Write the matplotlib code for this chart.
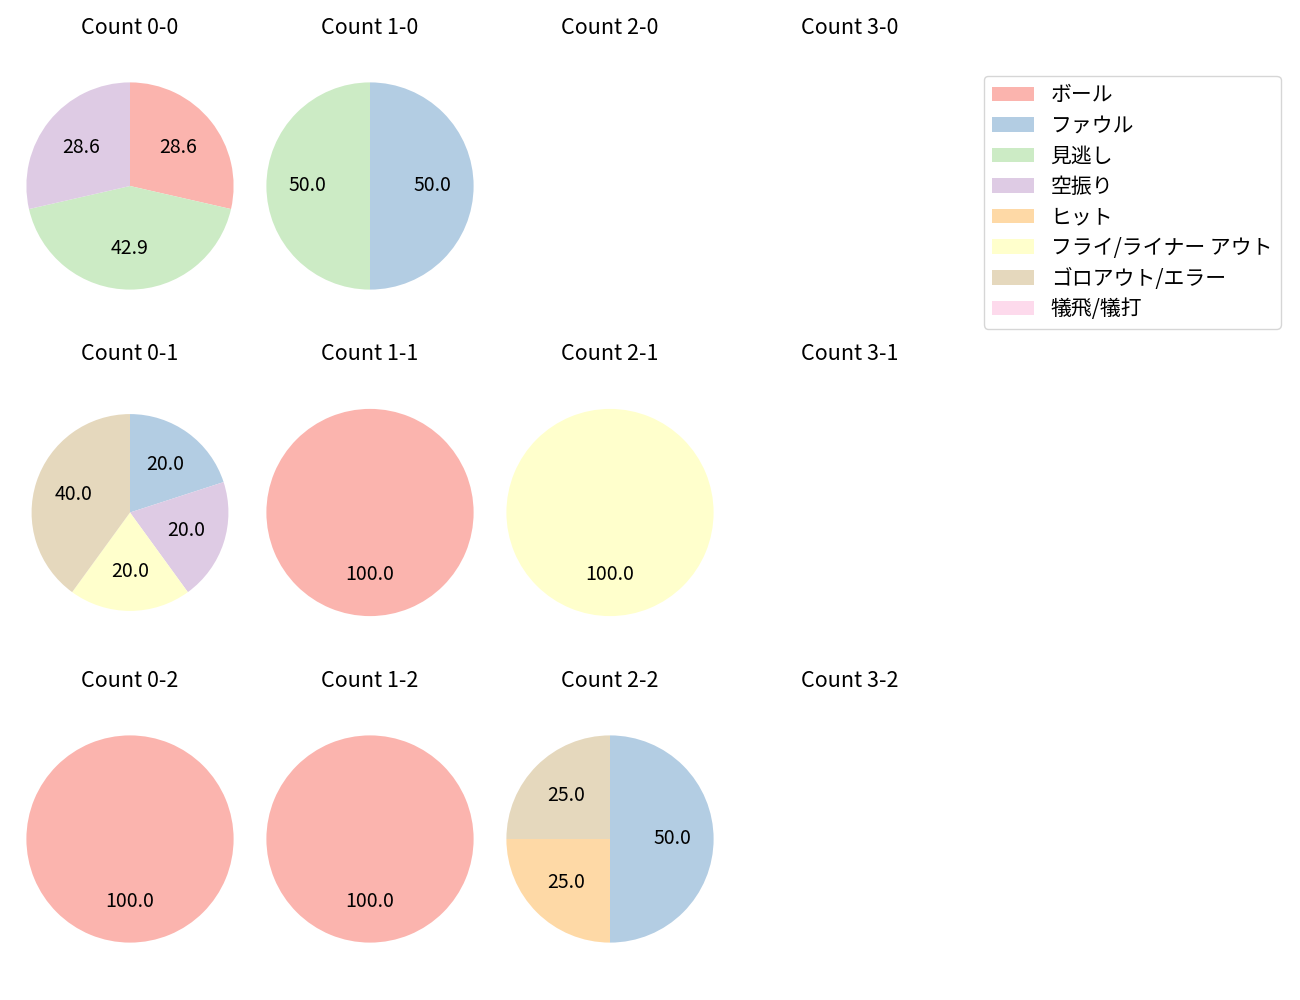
import matplotlib
matplotlib.use('Agg')
import matplotlib.pyplot as plt
from matplotlib.patches import Patch

plt.rcParams['font.family'] = ['Noto Sans CJK JP', 'DejaVu Sans']

# result categories, in legend order
labels = ['ボール', 'ファウル', '見逃し', '空振り', 'ヒット',
          'フライ/ライナー アウト', 'ゴロアウト/エラー', '犠飛/犠打']
colors = ['#fbb4ae', '#b3cde3', '#ccebc5', '#decbe4',
          '#fed9a6', '#ffffcc', '#e5d8bd', '#fddaec']

balls = [0, 1, 2, 3]
strikes = [0, 1, 2]

# counts per category for each ball-strike count (empty list = no data)
counts = {
    '0-0': [2, 0, 3, 2, 0, 0, 0, 0],
    '1-0': [0, 1, 1, 0, 0, 0, 0, 0],
    '2-0': [],
    '3-0': [],
    '0-1': [0, 1, 0, 1, 0, 1, 2, 0],
    '1-1': [1, 0, 0, 0, 0, 0, 0, 0],
    '2-1': [0, 0, 0, 0, 0, 1, 0, 0],
    '3-1': [],
    '0-2': [1, 0, 0, 0, 0, 0, 0, 0],
    '1-2': [1, 0, 0, 0, 0, 0, 0, 0],
    '2-2': [0, 2, 0, 0, 1, 0, 1, 0],
    '3-2': [],
}

fig = plt.figure(figsize=(13, 10), dpi=100)

side = 259 / 1300.0   # axes width (fig fraction)
side_h = 259 / 1000.0
for r, s in enumerate(strikes):
    for c, b in enumerate(balls):
        key = f'{b}-{s}'
        cx = (130 + 240 * c) / 1300.0
        cy = 1 - (186 + 326.5 * r) / 1000.0
        ax = fig.add_axes([cx - side / 2, cy - side_h / 2, side, side_h])
        ax.set_title(f'Count {key}', fontsize=15.5, pad=16.5)
        vals = counts[key]
        if sum(vals) == 0:
            ax.axis('off')
            continue
        v = [x for x in vals if x > 0]
        col = [colors[i] for i, x in enumerate(vals) if x > 0]
        rad = 0.95 if key == '0-1' else 1.0
        ax.pie(v, colors=col, autopct='%.1f', startangle=90, counterclock=False,
               radius=rad, textprops={'fontsize': 14})
        ax.set_aspect('equal')

handles = [Patch(facecolor=colors[i], label=labels[i]) for i in range(len(labels))]
fig.legend(handles=handles, loc='upper right', bbox_to_anchor=(0.985, 0.924),
           borderaxespad=0, fontsize=15, labelspacing=0.41)

fig.savefig('out.png')
